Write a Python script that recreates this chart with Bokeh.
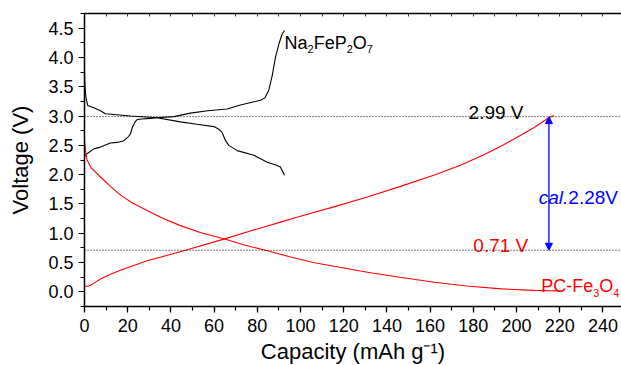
from bokeh.plotting import figure
from bokeh.models import (Range1d, LinearAxis, Span, Arrow, NormalHead,
                          SingleIntervalTicker, FixedTicker, NumeralTickFormatter)
from bokeh.embed import file_html
from bokeh.resources import INLINE
from bokeh.core.properties import value

# ---- data ----
nfpo_charge_x = [0, 0.5, 4.3, 7.4, 12, 15.1, 18.2, 19.4, 20.4, 21.3, 22.1, 23.6, 24.4, 26.7, 30.6, 33.6,
                 41.4, 49, 57, 66, 72.2, 78, 81.5, 83.5, 85.3, 86.9, 88.4, 90.0, 91.5, 92.6]
nfpo_charge_y = [2.30, 2.34, 2.44, 2.47, 2.54, 2.55, 2.58, 2.62, 2.65, 2.70, 2.80, 2.91, 2.94, 2.95, 2.96, 2.97,
                 2.99, 3.05, 3.09, 3.12, 3.19, 3.24, 3.27, 3.31, 3.44, 3.69, 4.00, 4.23, 4.40, 4.46]

nfpo_dis_x = [0, 0.2, 0.5, 0.9, 1.5, 4.3, 7.4, 9.7, 21.3, 33.6, 44.4, 52, 59.9, 62, 63.7, 65.3, 66.8,
              70.7, 78.4, 84.6, 88.9, 90.7, 92.6]
nfpo_dis_y = [3.75, 3.52, 3.38, 3.27, 3.18, 3.14, 3.09, 3.04, 3.00, 2.97, 2.90, 2.86, 2.82, 2.78, 2.72, 2.58, 2.50,
              2.41, 2.33, 2.21, 2.16, 2.13, 1.99]

fe_dis_x = [0, 0.5, 1.2, 3, 7.4, 12, 16.7, 22, 29, 36, 44.4, 54, 64.5, 74, 84.6, 95, 106, 118, 131,
            146, 162, 177, 193, 208, 220]
fe_dis_y = [2.57, 2.40, 2.25, 2.12, 1.96, 1.80, 1.65, 1.52, 1.39, 1.26, 1.13, 1.01, 0.905, 0.80, 0.70,
            0.60, 0.50, 0.42, 0.335, 0.25, 0.165, 0.10, 0.05, 0.025, 0.015]

fe_chg_x = [0, 2, 4, 7.4, 12, 18.2, 29, 46, 64.5, 78, 90.7, 100, 115.4, 130.9, 146.3, 161.7, 174, 184.9,
            193, 200.3, 208, 215, 217.3]
fe_chg_y = [0.09, 0.10, 0.14, 0.22, 0.30, 0.39, 0.53, 0.70, 0.90, 1.05, 1.19, 1.29, 1.45, 1.62, 1.80,
            1.99, 2.16, 2.34, 2.49, 2.64, 2.80, 2.97, 3.01]

v_high = 2.99
v_low = 0.71
arrow_x = 215

x_tick_interval = 20
x_minor_interval = 10
y_tick_interval = 0.5
x_max = 248.6

FONT = "Liberation Sans"

p = figure(frame_width=537, frame_height=293,
           x_range=Range1d(0, x_max), y_range=Range1d(-0.25, 4.75),
           output_backend="svg", toolbar_location=None,
           x_axis_location=None, y_axis_location=None,
           min_border_left=84, min_border_top=13, min_border_right=0, min_border_bottom=0)
p.outline_line_color = None
p.xgrid.visible = False
p.ygrid.visible = False
p.background_fill_color = "white"
p.border_fill_color = "white"


def style_axis(ax):
    ax.axis_line_width = 1.5
    ax.axis_line_color = "black"
    ax.major_tick_line_color = "black"
    ax.minor_tick_line_color = "black"
    ax.major_tick_line_width = 1.2
    ax.minor_tick_line_width = 1.2
    ax.major_label_text_font = FONT
    ax.major_label_text_font_size = "18px"
    ax.major_label_text_color = "black"
    ax.axis_label_text_font = FONT
    ax.axis_label_text_font_size = "22px"
    ax.axis_label_text_font_style = "normal"
    ax.axis_label_text_color = "black"


xaxis = LinearAxis(ticker=SingleIntervalTicker(interval=x_tick_interval, num_minor_ticks=2),
                   formatter=NumeralTickFormatter(format="0"),
                   axis_label="Capacity (mAh g\u207b\u00b9)")
style_axis(xaxis)
xaxis.major_tick_in = 0
xaxis.major_tick_out = 6
xaxis.minor_tick_in = 0
xaxis.minor_tick_out = 4
xaxis.major_label_standoff = 6
xaxis.axis_label_standoff = 4
p.add_layout(xaxis, "below")

yaxis = LinearAxis(ticker=SingleIntervalTicker(interval=y_tick_interval, num_minor_ticks=2),
                   formatter=NumeralTickFormatter(format="0.0"),
                   axis_label="Voltage (V)")
style_axis(yaxis)
yaxis.major_tick_in = 0
yaxis.major_tick_out = 6
yaxis.minor_tick_in = 0
yaxis.minor_tick_out = 4
yaxis.major_label_standoff = 5
yaxis.axis_label_standoff = 12
p.add_layout(yaxis, "left")

# top border with inward ticks only (no labels)
top_ticks = list(range(0, int(x_max) + 1, x_minor_interval))
top = LinearAxis(ticker=FixedTicker(ticks=[], minor_ticks=top_ticks))
style_axis(top)
top.major_tick_in = 0
top.major_tick_out = 0
top.minor_tick_in = 3
top.minor_tick_out = 0
top.minor_tick_line_width = 0.8
top.major_label_standoff = 0
p.add_layout(top, "above")

# dotted reference lines
for v in (v_high, v_low):
    p.add_layout(Span(location=v, dimension="width", line_color="black",
                      line_dash="1 2", line_width=1))

# curves
p.line(nfpo_charge_x, nfpo_charge_y, line_color="black", line_width=1.1)
p.line(nfpo_dis_x, nfpo_dis_y, line_color="black", line_width=1.1)
p.line(fe_dis_x, fe_dis_y, line_color="#ff0000", line_width=1.1)
p.line(fe_chg_x, fe_chg_y, line_color="#ff0000", line_width=1.1)

# blue double arrow
p.add_layout(Arrow(x_start=arrow_x, y_start=v_low, x_end=arrow_x, y_end=v_high,
                   line_color="#0000ff", line_width=1.3,
                   start=NormalHead(size=7, fill_color="#0000ff", line_color="#0000ff"),
                   end=NormalHead(size=7, fill_color="#0000ff", line_color="#0000ff")))

WIDTHS = {"N": 722, "a": 556, "F": 611, "e": 556, "P": 667, "O": 778, "C": 722, "-": 333,
          "c": 500, "l": 222, ".": 278, " ": 278, "V": 667}


def rich(x, y, parts, color, size, sub_size, drop):
    dx = 0.0
    for s, kind in parts:
        fs = sub_size if kind == "sub" else size
        p.text(x=[x], y=[y], text=[s], x_offset=dx, y_offset=drop if kind == "sub" else 0,
               text_font=value(FONT), text_font_size=f"{fs}px", text_color=color,
               text_baseline="alphabetic", text_align="left",
               text_font_style="italic" if kind == "it" else "normal")
        dx += sum(WIDTHS.get(c, 556) for c in s) / 1000 * fs


rich(92.6, 4.255, [("Na", "n"), ("2", "sub"), ("FeP", "n"), ("2", "sub"), ("O", "n"), ("7", "sub")],
     "black", 18, 11, 6)
rich(177.8, 3.066, [("2.99 V", "n")], "black", 19, 11, 0)
rich(180.0, 0.791, [("0.71 V", "n")], "#ff0000", 19, 11, 0)
rich(210.3, 1.615, [("cal.", "it"), ("2.28V", "n")], "#0000ff", 19, 11, 0)
rich(211.4, 0.096, [("PC-Fe", "n"), ("3", "sub"), ("O", "n"), ("4", "sub")], "#ff0000", 18, 11, 7)

open("out.html", "w").write(file_html(p, INLINE))
